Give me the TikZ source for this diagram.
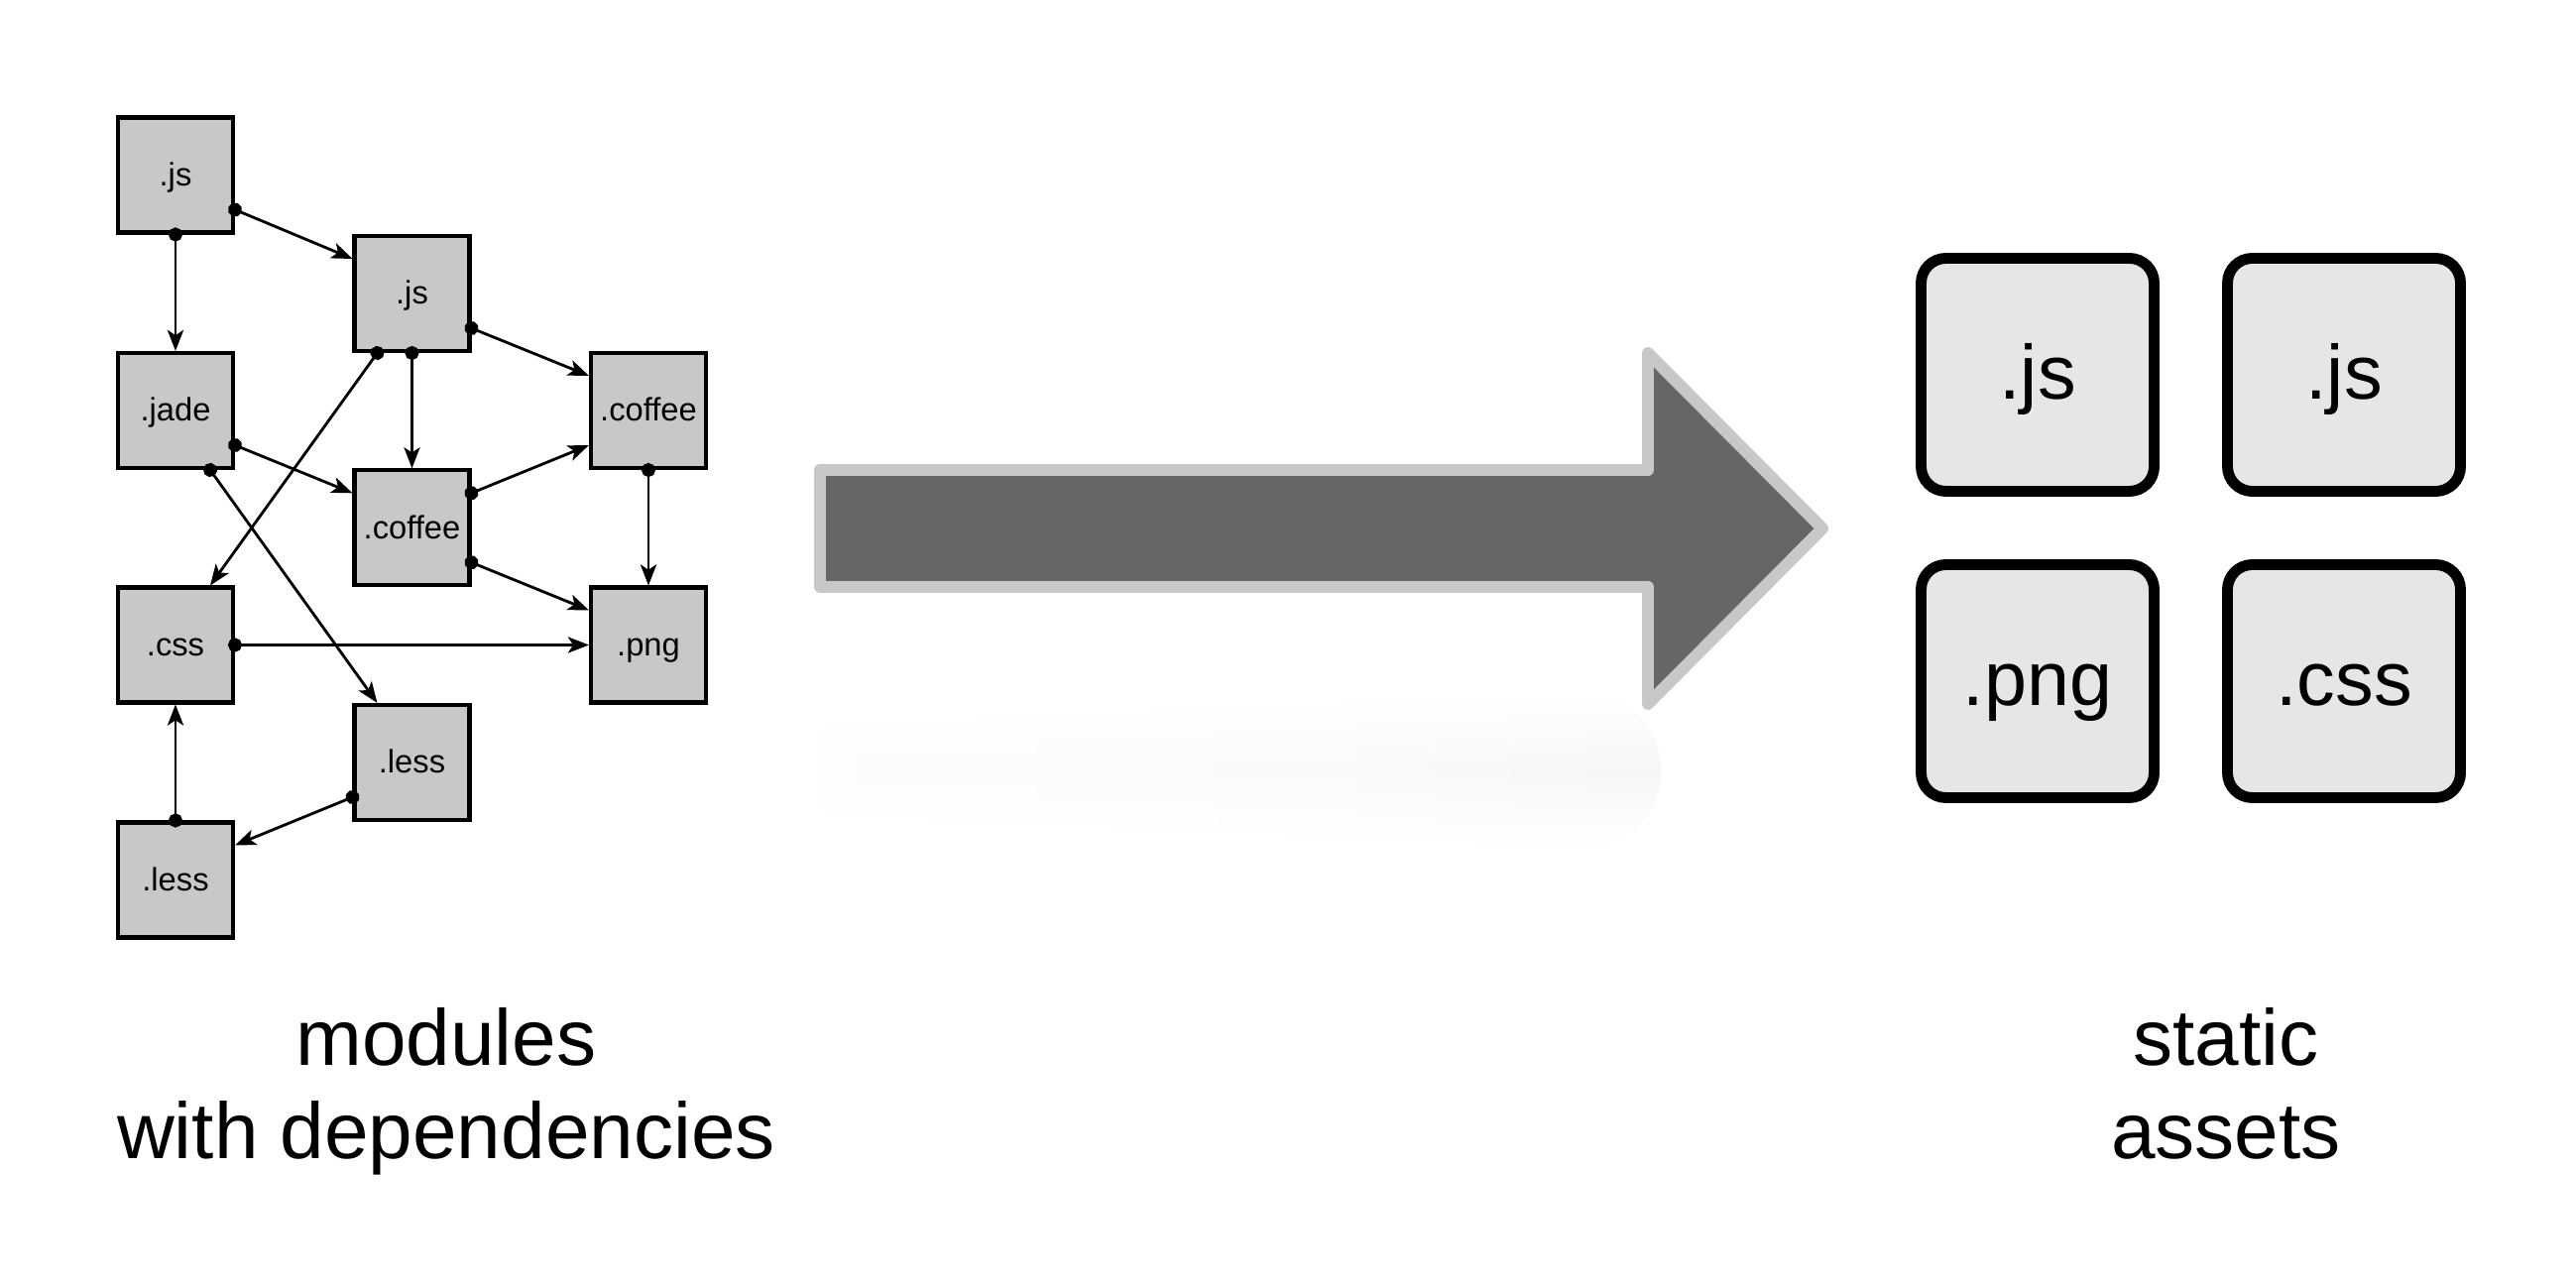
\documentclass[tikz,border=0pt]{standalone}
\usepackage{fontspec}
\setmainfont{Liberation Sans}
\usetikzlibrary{arrows.meta,fadings}
\definecolor{modgray}{HTML}{C8C8C8}
\definecolor{assetgray}{HTML}{E6E6E6}
\definecolor{arrowgray}{HTML}{666666}
\tikzfading[name=shadowfade, top color=transparent!100, bottom color=transparent!100, middle color=transparent!0]
\pgfdeclarehorizontalshading{shadowshade}{100bp}{color(0bp)=(white); color(55bp)=(black!2); color(90bp)=(black!5); color(100bp)=(white)}

\begin{document}
\begin{tikzpicture}[
  module/.style={draw, fill=modgray, line width=1.15pt, minimum size=1.16cm, inner sep=0pt,
    font=\fontsize{9.3}{11}\selectfont, text height=0.3cm, text depth=0.08cm},
  asset/.style={draw, fill=assetgray, line width=3.1pt, rounded corners=0.25cm, minimum size=2.35cm,
    inner sep=0pt, font=\fontsize{22}{26}\selectfont, text height=0.6cm, text depth=0.1cm},
  dep/.style={{Circle[length=4pt]}-{Stealth[length=6pt,width=4.6pt,inset=1.5pt]},
    line width=0.8pt, shorten <=-2pt},
  caption/.style={align=center, font=\fontsize{22.8}{27}\selectfont}
]
  \useasboundingbox (0,0) rectangle (25.98,12.99);

  % modules
  \node[module] (js1)     at (1.77,11.225) {.js};
  \node[module] (js2)     at (4.155,10.03) {.js};
  \node[module] (jade)    at (1.77,8.85)   {.jade};
  \node[module] (coffeeA) at (6.54,8.85)   {.coffee};
  \node[module] (coffeeB) at (4.155,7.667) {.coffee};
  \node[module] (css)     at (1.77,6.485)  {.css};
  \node[module] (png)     at (6.54,6.485)  {.png};
  \node[module] (lessA)   at (4.155,5.30)  {.less};
  \node[module] (lessB)   at (1.77,4.115)  {.less};

  % dependencies
  \draw[dep] (js1.south) -- (jade.north);
  \draw[dep] ([yshift=-3.5mm]js1.east) -- ([yshift=3.5mm]js2.west);
  \draw[dep] ([yshift=-3.5mm]js2.east) -- ([yshift=3.5mm]coffeeA.west);
  \draw[dep] (js2.south) -- (coffeeB.north);
  \draw[dep] ([xshift=-3.5mm]js2.south) -- ([xshift=3.5mm]css.north);
  \draw[dep] ([yshift=-3.5mm]jade.east) -- ([yshift=3.5mm]coffeeB.west);
  \draw[dep] ([xshift=3.5mm]jade.south) -- ([xshift=-3.5mm]lessA.north);
  \draw[dep] ([yshift=3.5mm]coffeeB.east) -- ([yshift=-3.5mm]coffeeA.west);
  \draw[dep] ([yshift=-3.5mm]coffeeB.east) -- ([yshift=3.5mm]png.west);
  \draw[dep] (coffeeA.south) -- (png.north);
  \draw[dep] (css.east) -- (png.west);
  \draw[dep] (lessB.north) -- (css.south);
  \draw[dep] ([yshift=-3.5mm]lessA.west) -- ([yshift=3.5mm]lessB.east);

  % big arrow and its shadow
  \shade[shading=shadowshade, path fading=shadowfade]
    (8.3,5.66) -- (16.0,6.0) to[out=0,in=90] (16.75,5.22) to[out=-90,in=0] (16.0,4.44) -- (8.3,4.78) -- cycle;
  \draw[line width=3.4pt, draw=modgray, fill=arrowgray, line join=round]
    (8.27,8.25) -- (16.62,8.25) -- (16.62,9.43) -- (18.38,7.66) -- (16.62,5.89)
    -- (16.62,7.07) -- (8.27,7.07) -- cycle;

  % static assets
  \node[asset] (outjsA) at (20.55,9.21) {.js};
  \node[asset] (outjsB) at (23.64,9.21) {.js};
  \node[asset] (outpng) at (20.55,6.12) {.png};
  \node[asset] (outcss) at (23.64,6.12) {.css};

  % captions
  \node[caption, anchor=base] (modcaption)   at (4.50,1.30)  {modules\\with dependencies};
  \node[caption, anchor=base] (assetcaption) at (22.45,1.30) {static\\assets};
\end{tikzpicture}
\end{document}
